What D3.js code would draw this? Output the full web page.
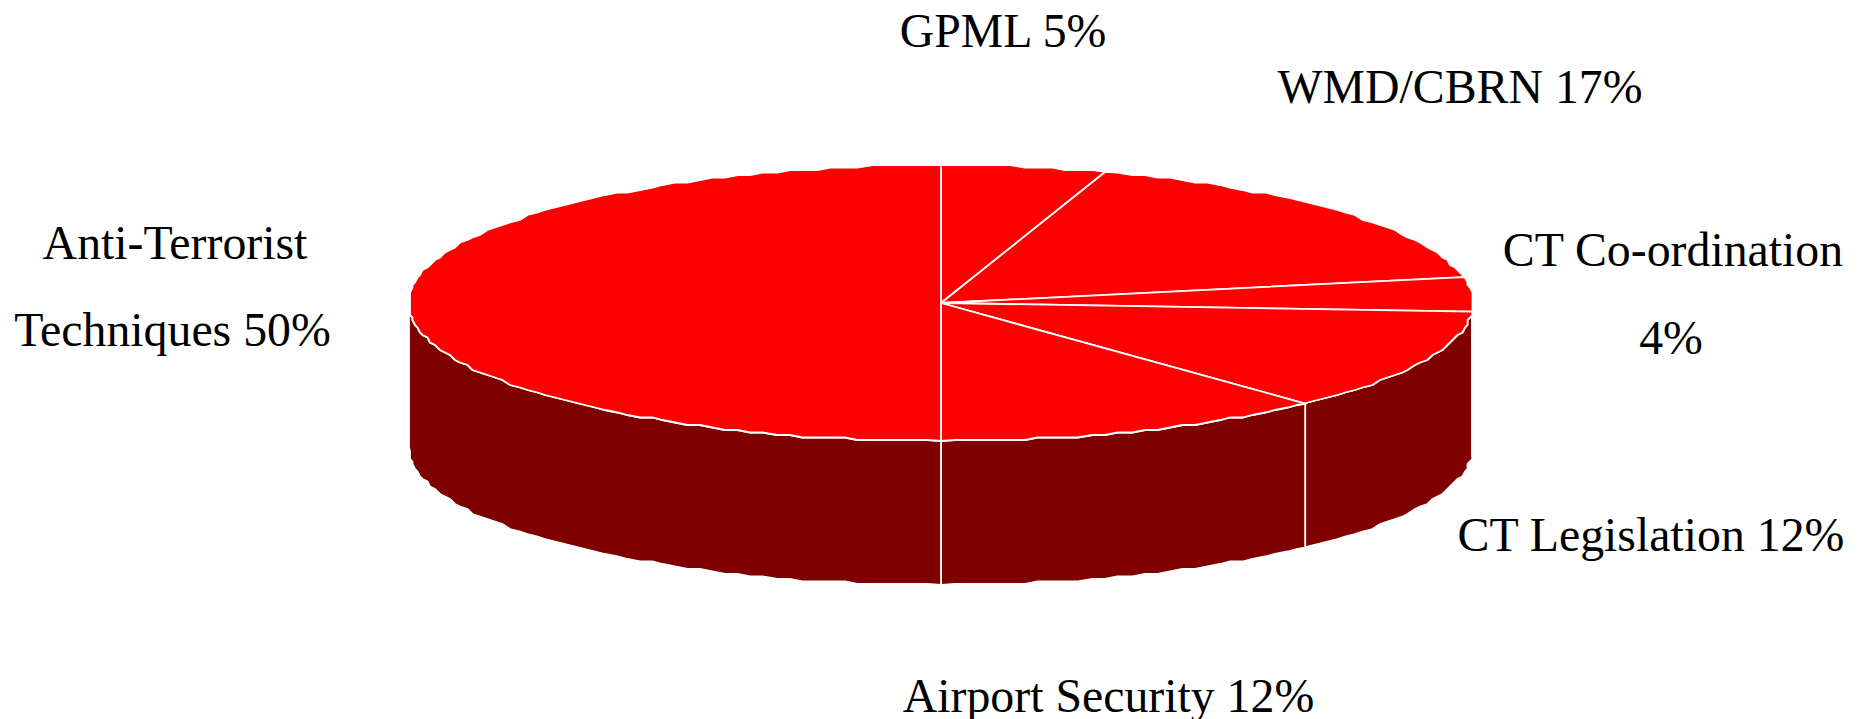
<!DOCTYPE html>
<html>
<head>
<meta charset="utf-8">
<script src="https://cdn.jsdelivr.net/npm/d3@7"></script>
<style>
  html, body { margin: 0; padding: 0; background: #fff; overflow: hidden; }
  text { font-family: "Liberation Serif", serif; font-size: 47.8px; fill: #000; }
</style>
</head>
<body>
<script>
// the data, clockwise from twelve o'clock
var categories = ["GPML", "WMD/CBRN", "CT Co-ordination", "CT Legislation", "Airport Security", "Anti-Terrorist Techniques"];
var shares = [5, 17, 4, 12, 12, 50];
var labelLines = [
  ["GPML 5%"],
  ["WMD/CBRN 17%"],
  ["CT Co-ordination", "4%"],
  ["CT Legislation 12%"],
  ["Airport Security 12%"],
  ["Anti-Terrorist", "Techniques 50%"]
];

var width = 1864, height = 719;

// where the label lines go: centre x and baseline y of each line
var labelPlace = [
  [[1003, 47]],
  [[1460, 103]],
  [[1673, 266], [1671, 354]],
  [[1651, 551]],
  [[1108.5, 712]],
  [[175, 259], [172.5, 346]]
];

// unit circle -> the tilted ellipse of the pie top
var x = d3.scaleLinear().domain([-1, 1]).range([409, 1473]),
    y = d3.scaleLinear().domain([-1, 1]).range([165, 441]);
var depth = 144;
var step = Math.PI / 120;  // the rim is a slightly rough polyline, not a true curve
var grid = 2.5;

var pie = d3.pie().sort(null).value(function (d) { return d; });
var slices = pie(shares);

var svg = d3.select("body").append("svg")
    .attr("width", width)
    .attr("height", height)
    .style("display", "block");

var line = d3.line();

function snap(v) {
  return Math.round(v / grid) * grid;
}

// points along the rim between two angles (0 = top, clockwise)
function rim(a0, a1, dy) {
  var pts = [[x(Math.sin(a0)), y(-Math.cos(a0)) + dy]];
  var first = Math.ceil(a0 / step + 0.01);
  for (var k = first; k * step < a1 - 0.001; k++) {
    pts.push([snap(x(Math.sin(k * step))), snap(y(-Math.cos(k * step))) + dy]);
  }
  pts.push([x(Math.sin(a1)), y(-Math.cos(a1)) + dy]);
  return pts;
}

// side wall: only the part of each slice on the front half of the rim
var sides = slices.filter(function (d) {
  return d.endAngle > Math.PI / 2 && d.startAngle < 3 * Math.PI / 2;
});

svg.append("g").selectAll("path")
  .data(sides)
  .join("path")
    .attr("d", function (d) {
      var a0 = Math.max(d.startAngle, Math.PI / 2),
          a1 = Math.min(d.endAngle, 3 * Math.PI / 2);
      return line(rim(a0, a1, 0).concat(rim(a0, a1, depth).reverse())) + "Z";
    })
    .attr("fill", "#800000")
    .attr("stroke", "#fff")
    .attr("stroke-width", 1.8);

// top of the pie
svg.append("g").selectAll("path")
  .data(slices)
  .join("path")
    .attr("d", function (d) {
      return line([[x(0), y(0)]].concat(rim(d.startAngle, d.endAngle, 0))) + "Z";
    })
    .attr("fill", "#ff0000")
    .attr("stroke", "#fff")
    .attr("stroke-width", 1.8);

// labels
svg.append("g").selectAll("g")
  .data(labelLines)
  .join("g")
    .each(function (d, i) {
      d3.select(this).selectAll("text")
        .data(d)
        .join("text")
          .attr("text-anchor", "middle")
          .attr("x", function (t, j) { return labelPlace[i][j][0]; })
          .attr("y", function (t, j) { return labelPlace[i][j][1]; })
          .text(function (t) { return t; });
    });
</script>
</body>
</html>
